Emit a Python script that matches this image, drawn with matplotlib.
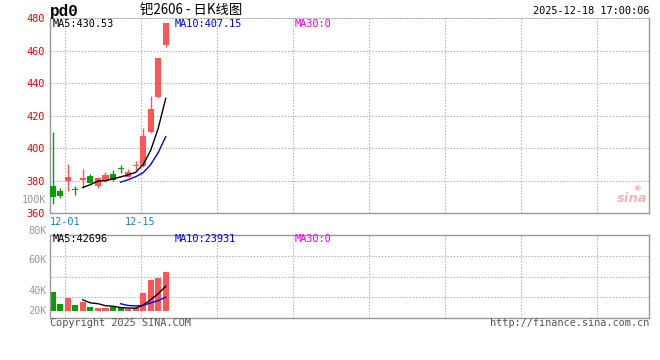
import numpy as np
import pandas as pd
import matplotlib
matplotlib.use("Agg")
import matplotlib.pyplot as plt

plt.rcParams['font.family'] = ['DejaVu Sans Mono', 'Noto Sans CJK SC']

# ---------------- data ----------------
dates = ["11-27", "11-28", "12-01", "12-02", "12-03", "12-04", "12-05", "12-08",
         "12-09", "12-10", "12-11", "12-12", "12-15", "12-16", "12-17", "12-18"]
opens = [376.7, 373.7, 379.8, 374.5, 380.4, 383.1, 376.9, 380.0,
         384.1, 387.7, 382.5, 388.8, 389.0, 410.1, 431.5, 463.3]
closes = [370.2, 370.8, 382.5, 374.2, 381.8, 378.8, 381.8, 383.5,
          380.2, 387.5, 385.2, 389.2, 407.4, 423.9, 455.5, 477.0]
highs = [410.1, 375.7, 390.2, 376.7, 387.2, 384.1, 382.0, 385.5,
         386.6, 389.6, 387.0, 392.1, 412.3, 432.0, 455.5, 477.0]
lows = [365.7, 369.6, 373.9, 371.2, 375.3, 378.4, 375.7, 379.4,
        379.8, 384.9, 382.1, 386.1, 388.5, 409.5, 431.0, 462.0]
volumes = [33300, 12600, 23000, 10900, 16100, 7500, 5750, 5750,
           6300, 4500, 3500, 4500, 31600, 53400, 56200, 67700]

price_ticks = [360, 380, 400, 420, 440, 460, 480]
xtick_dates = ["12-01", "12-15"]
vol_tick_labels = ["100K", "80K", "60K", "40K", "20K"]

title_symbol = "pd0"
title_text = "钯2606 - 日K线图"
timestamp = "2025-12-18 17:00:06"
price_ma_labels = ["MA5:430.53", "MA10:407.15", "MA30:0"]
vol_ma_labels = ["MA5:42696", "MA10:23931", "MA30:0"]
copyright_text = "Copyright 2025 SINA.COM"
url_text = "http://finance.sina.com.cn"

# ---------------- style ----------------
W, H = 660, 360
RED = '#ff5555'
GREEN = '#00a000'
GRID = '#b0b0b0'
BORDER = '#999999'
ma_colors = ['#000000', '#0000ee', '#ee00ee']

def fx(px):
    return px / W

def fy(py):
    return 1 - py / H

fig = plt.figure(figsize=(W / 100, H / 100), dpi=100)
fig.patch.set_facecolor('white')

x = np.arange(len(dates))
o = np.array(opens); c = np.array(closes)
hi = np.array(highs); lo = np.array(lows)
up = c >= o
colors = np.where(up, RED, GREEN)

XL = (-0.37, 79.18)
grid_px = [65 + 76 * k for k in range(8)]
grid_fr = [(g - 50) / 599 for g in grid_px]
dotted = (0, (1.4, 1.6))

# ---------------- price panel ----------------
ax1 = fig.add_axes([fx(50), fy(213.3), fx(599), (213.3 - 18) / H])
ax1.set_xlim(*XL)
ax1.set_ylim(360, 480)
for v in price_ticks[1:-1]:
    ax1.axhline(v, color=GRID, lw=0.75, ls=dotted, zorder=0)
for g in grid_fr:
    ax1.plot([g, g], [0, 1], transform=ax1.transAxes, color=GRID, lw=0.75,
             ls=dotted, zorder=0)

ax1.vlines(x, lo, hi, colors=colors, lw=1.0, zorder=2)
body_lo = np.minimum(o, c)
body_h = np.maximum(np.abs(c - o), 0.6)
ax1.bar(x, body_h, bottom=body_lo, width=0.8, color=colors, lw=0, zorder=3)

closes_s = pd.Series(closes)
ax1.plot(x, closes_s.rolling(5).mean(), color=ma_colors[0], lw=1.0, zorder=4)
ax1.plot(x, closes_s.rolling(10).mean(), color=ma_colors[1], lw=1.0, zorder=4)

ax1.set_yticks(price_ticks)
ax1.set_yticklabels([str(v) for v in price_ticks], color='#ee0000', fontsize=7.4)
ax1.set_xticks([dates.index(d) - 0.4 for d in xtick_dates])
ax1.set_xticklabels(xtick_dates, color='#1a80d0', fontsize=7.4)
ax1.tick_params(length=0, pad=3)
ax1.tick_params(axis='y', pad=4)
for s in ['left', 'right', 'bottom']:
    ax1.spines[s].set_color(BORDER)
    ax1.spines[s].set_linewidth(1.0)
ax1.spines['top'].set_color(GRID)
ax1.spines['top'].set_linestyle(dotted)
ax1.spines['top'].set_linewidth(0.75)

for lbl, xp, col in zip(price_ma_labels, [53, 175, 295], ma_colors):
    fig.text(fx(xp), fy(23.7), lbl, color=col, fontsize=7.4, va='center', ha='left')

# sina watermark
fig.text(fx(648), fy(198), "sina", color='#efb8b8', fontsize=9.5, fontweight='bold',
         style='italic', ha='right', va='center', family='DejaVu Sans')
fig.text(fx(637), fy(187), "◉", color='#efb8b8', fontsize=6, ha='center', va='center',
         family='DejaVu Sans')

# ---------------- volume panel ----------------
ax2 = fig.add_axes([fx(50), fy(318), fx(599), 83 / H])
ax2.set_xlim(*XL)
ax2.set_ylim(-12000, 130900)
for f in [0.25, 0.5, 0.75]:
    ax2.plot([0, 1], [f, f], transform=ax2.transAxes, color=GRID, lw=0.75,
             ls=dotted, zorder=0)
for g in grid_fr:
    ax2.plot([g, g], [0, 1], transform=ax2.transAxes, color=GRID, lw=0.75,
             ls=dotted, zorder=0)
ax2.bar(x, volumes, width=0.8, color=colors, lw=0, zorder=2)
vol_s = pd.Series(volumes)
ax2.plot(x, vol_s.rolling(5).mean(), color=ma_colors[0], lw=1.0, zorder=3)
ax2.plot(x, vol_s.rolling(10).mean(), color=ma_colors[1], lw=1.0, zorder=3)
ax2.set_xticks([]); ax2.set_yticks([])
for s in ax2.spines.values():
    s.set_color(BORDER)
    s.set_linewidth(1.0)

for lbl, yp in zip(vol_tick_labels, [200, 230.7, 260, 290.7, 310.7]):
    fig.text(fx(46.5), fy(yp), lbl, color='#999999', fontsize=7.4, ha='right', va='center')

for lbl, xp, col in zip(vol_ma_labels, [53, 175, 295], ma_colors):
    fig.text(fx(xp), fy(238.5), lbl, color=col, fontsize=7.4, va='center', ha='left')

# ---------------- header / footer ----------------
fig.text(fx(50), fy(11.5), title_symbol, fontsize=11.5, fontweight='bold',
         ha='left', va='center', family=['Liberation Mono'])
fig.text(fx(140), fy(11), title_text, fontsize=9.6, ha='left', va='center',
         family=['Noto Sans CJK SC', 'DejaVu Sans'])
fig.text(fx(649), fy(11.5), timestamp, fontsize=7.4, ha='right', va='center')
fig.text(fx(50), fy(323.5), copyright_text, fontsize=7.4, color='#555555',
         ha='left', va='center')
fig.text(fx(649), fy(323.5), url_text, fontsize=7.4, color='#555555',
         ha='right', va='center')

fig.savefig("out.png", dpi=100, facecolor='white')
